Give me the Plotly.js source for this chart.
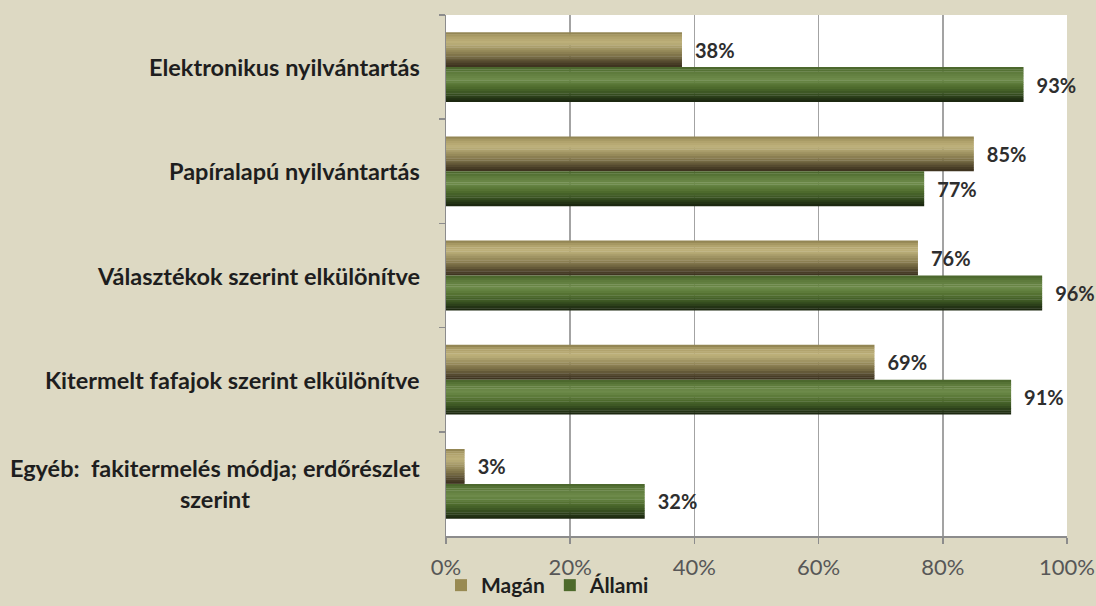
<!DOCTYPE html>
<html>
<head>
<meta charset="utf-8">
<script src="https://cdn.plot.ly/plotly-3.0.1.min.js"></script>
<style>html,body{margin:0;padding:0;background:#ddd9c3;}#chart{width:1096px;height:606px;}</style>
</head>
<body>
<div id="chart"></div>
<script>
const categories = [
  "Elektronikus nyilvántartás",
  "Papíralapú nyilvántartás",
  "Választékok szerint elkülönítve",
  "Kitermelt fafajok szerint elkülönítve",
  "Egyéb:  fakitermelés módja; erdőrészlet<br>szerint"
];
const seriesNames = ["Magán", "Állami"];
const maganValues = [38, 85, 76, 69, 3];
const allamiValues = [93, 77, 96, 91, 32];

const W = 0.335;      // bar thickness in category units
const STRIPS = 16;    // strips used to imitate the cylinder shading
// gradient stops (top -> bottom of each bar)
const maganStops = [[0, '#8a7d4c'], [0.12, '#aea06a'], [0.3, '#beb17b'], [0.5, '#9b8f5e'], [0.7, '#786c45'], [0.88, '#4c4129'], [1, '#3a301d']];
const allamiStops = [[0, '#476329'], [0.15, '#5e7b3c'], [0.35, '#6d8a4a'], [0.55, '#52702f'], [0.75, '#3a5322'], [0.9, '#243415'], [1, '#18220d']];

function hex2rgb(h) { return [1, 3, 5].map(i => parseInt(h.substr(i, 2), 16)); }
function colorAt(stops, t) {
  for (let i = 1; i < stops.length; i++) {
    if (t <= stops[i][0]) {
      const a = stops[i - 1], b = stops[i];
      const f = (t - a[0]) / (b[0] - a[0]);
      const ca = hex2rgb(a[1]), cb = hex2rgb(b[1]);
      return 'rgb(' + ca.map((v, k) => Math.round(v + (cb[k] - v) * f)).join(',') + ')';
    }
  }
  return stops[stops.length - 1][1];
}

function makeSeries(name, values, stops, groupOffset, legendColor) {
  const out = [];
  for (let i = 0; i < STRIPS; i++) {
    const t = (i + 0.5) / STRIPS;
    out.push({
      type: 'bar', orientation: 'h', name: name,
      y: categories, x: values,
      offset: groupOffset + (i / STRIPS) * W,
      width: (W / STRIPS) * (i === STRIPS - 1 ? 1 : 1.15),
      marker: {color: colorAt(stops, t), line: {width: 0}},
      showlegend: false, hoverinfo: 'skip'
    });
  }
  // label layer (full bar, transparent) carrying the data labels
  out.push({
    type: 'bar', orientation: 'h', name: name,
    y: categories, x: values,
    offset: groupOffset, width: W,
    marker: {color: 'rgba(0,0,0,0)', line: {width: 0}},
    showlegend: false, hoverinfo: 'skip',
    text: values.map(v => '\u2002' + v + '%'),
    textposition: 'outside',
    textfont: {family: 'Lato, sans-serif', size: 20, color: '#2e2e2e', weight: 'bold'},
    cliponaxis: false
  });
  // legend entry
  out.push({
    type: 'bar', orientation: 'h', name: name,
    y: [null], x: [null],
    marker: {color: legendColor}, showlegend: true, hoverinfo: 'skip'
  });
  return out;
}

const traces = [].concat(
  makeSeries(seriesNames[0], maganValues, maganStops, -W, '#988a52'),
  makeSeries(seriesNames[1], allamiValues, allamiStops, 0, '#4d6a2b')
);

const annotations = categories.map(c => ({
  xref: 'paper', yref: 'y', x: 0, y: c, xshift: -24,
  xanchor: 'right', yanchor: 'middle', align: 'center',
  text: c, showarrow: false,
  font: {family: 'Lato, sans-serif', size: 23.5, color: '#1e1e1e', weight: 'bold'}
}));

const layout = {
  width: 1096, height: 606,
  paper_bgcolor: '#ddd9c3',
  plot_bgcolor: '#ffffff',
  margin: {l: 446, r: 29, t: 15, b: 70},
  barmode: 'overlay',
  font: {family: 'Lato, sans-serif'},
  xaxis: {
    range: [0, 100], dtick: 20, ticksuffix: '%',
    showgrid: true, gridcolor: '#a3a3a3', gridwidth: 1.5,
    showline: true, linecolor: '#8c8c8c', linewidth: 1.5,
    ticks: 'outside', ticklen: 6, tickcolor: '#8c8c8c', tickwidth: 1.5,
    ticklabelstandoff: 5,
    zeroline: false,
    tickfont: {family: 'Lato, sans-serif', size: 22, color: '#575757'},
    fixedrange: true
  },
  yaxis: {
    type: 'category', autorange: 'reversed',
    showticklabels: false,
    tickson: 'boundaries', ticks: 'outside', ticklen: 6, tickcolor: '#8c8c8c', tickwidth: 1.5,
    showline: true, linecolor: '#8c8c8c', linewidth: 1.5,
    showgrid: false, zeroline: false, fixedrange: true
  },
  legend: {
    orientation: 'h', xref: 'container', yref: 'container',
    x: 0.5, xanchor: 'center', y: 0.0, yanchor: 'bottom',
    font: {family: 'Lato, sans-serif', size: 21, color: '#1e1e1e', weight: 'bold'},
    bgcolor: 'rgba(0,0,0,0)', itemwidth: 20, tracegroupgap: 0
  },
  annotations: annotations,
  showlegend: true
};

Plotly.newPlot('chart', traces, layout, {displayModeBar: false, staticPlot: true});
</script>
</body>
</html>
